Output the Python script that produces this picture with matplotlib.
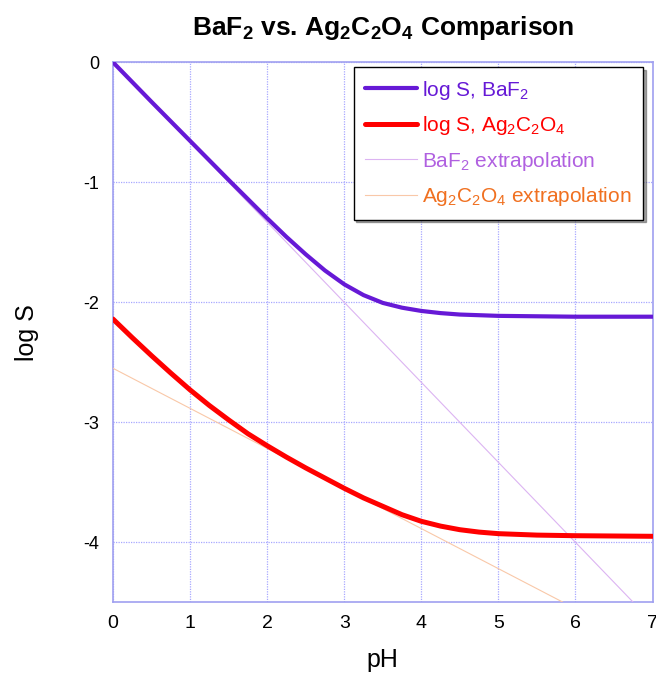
import numpy as np
import matplotlib
matplotlib.use("Agg")
import matplotlib.pyplot as plt

plt.rcParams['font.family'] = ['Liberation Sans', 'DejaVu Sans']
plt.rcParams['mathtext.fontset'] = 'custom'
plt.rcParams['mathtext.rm'] = 'Liberation Sans'
plt.rcParams['mathtext.default'] = 'regular'
plt.rcParams['axes.unicode_minus'] = False

# values
ph_baf2 = [0, 0.5, 1, 1.5, 1.75, 2, 2.25, 2.5, 2.75, 3, 3.25, 3.5, 3.75, 4, 4.25, 4.5, 5, 6, 7]
logs_baf2 = [0, -0.33, -0.655, -0.98, -1.14, -1.30, -1.455, -1.60, -1.735, -1.85, -1.94, -2.005,
             -2.045, -2.072, -2.09, -2.102, -2.113, -2.12, -2.12]

ph_ag = [0, 0.25, 0.5, 0.75, 1, 1.25, 1.5, 1.75, 2, 2.25, 2.5, 2.75, 3, 3.25, 3.5, 3.75, 4,
         4.25, 4.5, 4.75, 5, 5.5, 6, 7]
logs_ag = [-2.14, -2.295, -2.445, -2.59, -2.73, -2.86, -2.98, -3.095, -3.195, -3.29, -3.38,
           -3.465, -3.55, -3.63, -3.70, -3.77, -3.825, -3.865, -3.895, -3.915, -3.928, -3.94,
           -3.945, -3.95]

# straight extrapolation lines (end points)
ph_baf2_ext = [0, 6.75]
logs_baf2_ext = [0, -4.5]
ph_ag_ext = [0, 5.84]
logs_ag_ext = [-2.55, -4.5]

fig = plt.figure(figsize=(6.56, 6.75), dpi=100)
ax = fig.add_axes([0.1723, 0.1077, 0.8224, 0.8])

ax.plot(ph_baf2, logs_baf2, color='#6619d6', lw=3.0, label=r'log S, BaF$_2$',
        solid_capstyle='round', zorder=4)
ax.plot(ph_ag, logs_ag, color='#ff0000', lw=3.6, label=r'log S, Ag$_2$C$_2$O$_4$',
        solid_capstyle='round', zorder=4)
ax.plot(ph_baf2_ext, logs_baf2_ext, color='#dcb4f2', lw=0.8, label=r'BaF$_2$ extrapolation', zorder=3)
ax.plot(ph_ag_ext, logs_ag_ext, color='#f9c8a8', lw=0.8, label=r'Ag$_2$C$_2$O$_4$ extrapolation', zorder=3)

ax.set_xlim(0, 7)
ax.set_ylim(-4.5, 0)
ax.set_xticks(range(0, 8))
ax.set_yticks([0, -1, -2, -3, -4])
ax.tick_params(length=0)
ax.tick_params(axis='x', labelsize=14, pad=9)
ax.tick_params(axis='y', labelsize=13, pad=10)
ax.grid(True, color='#a8a8ff', ls=(0, (1, 1)), lw=0.9)
for s in ax.spines.values():
    s.set_color('#a0a0f0')
    s.set_linewidth(1.2)

ax.set_xlabel('pH', fontsize=18, labelpad=12)
ax.set_ylabel('log S', fontsize=18, labelpad=32)
ax.set_title(r'BaF$_2$ vs. Ag$_2$C$_2$O$_4$ Comparison', fontsize=19, fontweight='bold', pad=20)

leg = ax.legend(loc='upper right', bbox_to_anchor=(0.983, 0.991), borderaxespad=0, fontsize=15,
                frameon=True, fancybox=False, shadow=True, handlelength=2.5, handletextpad=0.25,
                borderpad=0.55, labelspacing=0.6)
leg.get_frame().set_edgecolor('black')
leg.get_frame().set_linewidth(1.0)
text_colors = ['#6619d6', '#ff0000', '#b060e0', '#f07020']
for t, c in zip(leg.get_texts(), text_colors):
    t.set_color(c)

fig.savefig('out.png', dpi=100)
